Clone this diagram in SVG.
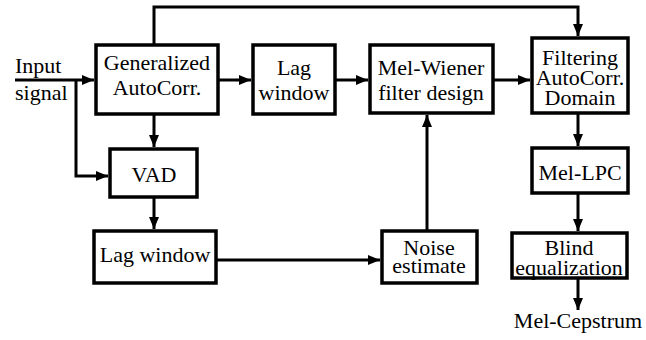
<svg xmlns="http://www.w3.org/2000/svg" width="646" height="340" viewBox="0 0 646 340">
<defs>
<marker id="ah" markerUnits="userSpaceOnUse" markerWidth="13" markerHeight="11" refX="12" refY="5" orient="auto">
<path d="M0,0 L12,5 L0,10 z" fill="#000"/>
</marker>
</defs>
<g id="connectors" fill="none" stroke="#000" stroke-width="3">
<path d="M15,80 H94" marker-end="url(#ah)"/>
<path d="M76,80 V176 H108" marker-end="url(#ah)"/>
<path d="M219,80 H251" marker-end="url(#ah)"/>
<path d="M336,80 H368" marker-end="url(#ah)"/>
<path d="M494,80 H530" marker-end="url(#ah)"/>
<path d="M154,44 V7 H578 V36" marker-end="url(#ah)"/>
<path d="M154,115 V147" marker-end="url(#ah)"/>
<path d="M154,198 V229" marker-end="url(#ah)"/>
<path d="M217,260 H380" marker-end="url(#ah)"/>
<path d="M427,230 V115" marker-end="url(#ah)"/>
<path d="M578,114 V146" marker-end="url(#ah)"/>
<path d="M578,194 V231" marker-end="url(#ah)"/>
<path d="M578,279 V310" marker-end="url(#ah)"/>
</g>
<g fill="#fff" stroke="#000" stroke-width="3.5">
<rect id="gac-box" x="96" y="45" width="122" height="69"/>
<rect id="lag1-box" x="253" y="45" width="82" height="69"/>
<rect id="mw-box" x="370" y="45" width="123" height="68"/>
<rect id="fad-box" x="532" y="38" width="96" height="75"/>
<rect id="vad-box" x="110" y="149" width="87" height="48"/>
<rect id="lag2-box" x="94" y="231" width="122" height="52"/>
<rect id="noise-box" x="382" y="231" width="95" height="52"/>
<rect id="mlpc-box" x="532" y="148" width="96" height="45"/>
<rect id="blind-box" x="512" y="233" width="115" height="45"/>
</g>
<g id="input"><text font-family="Liberation Serif" font-size="22" x="15" y="73">Input</text><text font-family="Liberation Serif" font-size="22" x="15" y="100">signal</text></g>
<g id="gac"><text font-family="Liberation Serif" font-size="22" text-anchor="middle" x="157" y="70">Generalized</text><text font-family="Liberation Serif" font-size="22" text-anchor="middle" x="157" y="95">AutoCorr.</text></g>
<g id="lag1"><text font-family="Liberation Serif" font-size="22" text-anchor="middle" x="294" y="75">Lag</text><text font-family="Liberation Serif" font-size="22" text-anchor="middle" x="294" y="100">window</text></g>
<g id="mw"><text font-family="Liberation Serif" font-size="22" text-anchor="middle" x="431" y="75">Mel-Wiener</text><text font-family="Liberation Serif" font-size="22" text-anchor="middle" x="431" y="100">filter design</text></g>
<g id="fad"><text font-family="Liberation Serif" font-size="22" text-anchor="middle" x="580" y="65">Filtering</text><text font-family="Liberation Serif" font-size="22" text-anchor="middle" x="580" y="85">AutoCorr.</text><text font-family="Liberation Serif" font-size="22" text-anchor="middle" x="580" y="105">Domain</text></g>
<g id="vad"><text font-family="Liberation Serif" font-size="22" text-anchor="middle" x="154" y="182">VAD</text></g>
<g id="lag2"><text font-family="Liberation Serif" font-size="22" text-anchor="middle" x="155" y="262">Lag window</text></g>
<g id="noise"><text font-family="Liberation Serif" font-size="22" text-anchor="middle" x="429" y="255">Noise</text><text font-family="Liberation Serif" font-size="22" text-anchor="middle" x="429" y="273">estimate</text></g>
<g id="mlpc"><text font-family="Liberation Serif" font-size="22" text-anchor="middle" x="580" y="180">Mel-LPC</text></g>
<g id="blind"><text font-family="Liberation Serif" font-size="22" text-anchor="middle" x="569" y="255">Blind</text><text font-family="Liberation Serif" font-size="22" text-anchor="middle" x="569" y="275">equalization</text></g>
<g id="out"><text font-family="Liberation Serif" font-size="22" text-anchor="middle" x="578" y="328">Mel-Cepstrum</text></g>
</svg>
